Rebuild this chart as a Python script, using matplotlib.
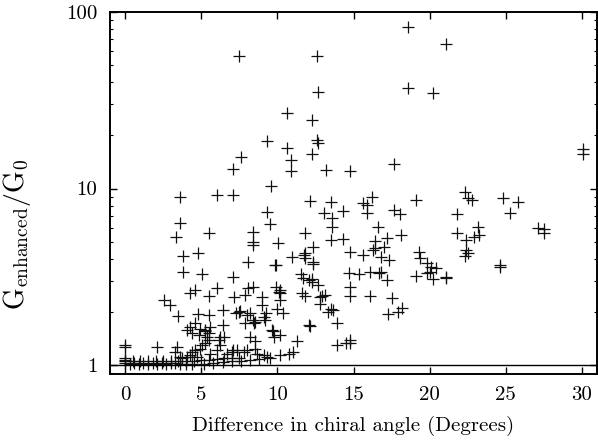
import matplotlib
matplotlib.use('Agg')
import matplotlib.pyplot as plt
from matplotlib.ticker import FixedLocator, FixedFormatter, LogLocator, NullFormatter

# ── data: difference in chiral angle (deg) vs G_enhanced/G_0 ──
angle_high = [7.5, 12.6, 12.7, 10.6, 12.3, 12.6, 12.7, 9.3, 10.6, 12.3, 7.6, 10.9, 7.1, 10.9,
              13.2, 14.75, 9.55, 3.6, 6.0, 7.1, 18.6, 21.1, 18.6, 20.2, 30.1, 30.1, 17.65]
ratio_high = [56, 56, 35.2, 26.9, 24.4, 18.8, 18.2, 18.7, 16.9, 15.7, 15.0, 14.5, 12.9, 12.5,
              12.8, 12.6, 10.4, 8.9, 9.2, 9.2, 82.6, 65.9, 37.2, 34.9, 16.7, 15.7, 13.7]

angle_right = [15.6, 15.9, 16.2, 15.9, 14.3, 17.65, 18.05, 19.1, 22.3, 22.5, 22.8, 24.85, 25.8,
               25.3, 21.8, 16.6, 13.5, 14.3, 16.4, 17.2, 18.1, 17.0, 14.75, 15.6, 16.3, 16.8,
               17.3, 19.3, 19.37, 19.85, 20.07, 20.4, 20.0, 21.8, 22.4, 22.9, 23.2, 23.25, 22.4,
               22.5, 22.3, 24.6, 24.6, 27.5, 27.1, 27.5, 14.7, 15.35, 16.1, 16.7, 16.8, 17.2,
               19.1, 19.85, 20.2, 21.1, 21.1, 14.75, 14.75, 16.1, 17.5, 13.65, 13.9, 17.25,
               17.9, 18.2, 13.9, 14.5, 14.8, 14.8, 16.4]
ratio_right = [8.3, 8.06, 9.0, 7.3, 7.46, 7.6, 7.2, 8.6, 9.5, 8.8, 8.6, 8.8, 8.4,
               7.3, 7.2, 6.08, 5.1, 5.15, 5.04, 5.22, 5.45, 4.68, 4.39, 4.2, 4.48, 4.11,
               3.94, 4.39, 4.02, 3.8, 3.58, 3.53, 3.38, 5.57, 5.1, 5.33, 6.08, 5.45, 4.48,
               4.33, 4.15, 3.69, 3.58, 5.87, 5.95, 5.57, 3.31, 3.27, 3.38, 3.31, 3.38, 3.03,
               3.19, 3.33, 3.06, 3.16, 3.1, 2.78, 2.47, 2.47, 2.39, 2.05, 1.74, 1.94,
               2.0, 2.1, 1.30, 1.34, 1.39, 1.33, 4.62]

angle_mid = [3.57, 3.33, 5.48, 3.8, 4.76, 3.8, 5.05, 7.06, 6.0, 4.6, 4.28, 12.17, 13.5, 13.05,
             13.6, 13.6, 9.32, 9.54, 8.37, 8.37, 8.37, 11.84, 12.35, 10.05, 10.97, 11.73, 11.84,
             12.35, 8.07, 9.82, 9.9, 11.56, 11.7, 12.28, 12.66, 13.1, 12.8, 12.8, 13.5, 8.07,
             8.4, 9.91, 10.2, 10.1, 5.48, 2.52, 2.96, 3.47, 4.76, 5.48, 6.43, 6.43, 7.3, 7.46,
             8.0, 8.22, 8.44, 9.14, 9.28, 9.98, 10.4, 4.28, 4.6, 4.93, 5.59, 5.26, 5.37, 5.48,
             6.25, 8.22, 9.69, 9.8, 10.2, 11.3, 12.1, 2.12, 11.8, 12.35, 12.06, 12.28,
             7.13, 7.9, 9.0, 10.2, 10.2, 11.6, 11.8, 12.9, 9.0, 7.57, 8.4, 8.55, 9.2, 7.9,
             8.55, 9.65, 12.17, 13.3]
ratio_mid = [6.4, 5.33, 5.57, 4.15, 4.33, 3.38, 3.26, 3.16, 2.74, 2.66, 2.55, 8.53, 8.42, 7.23,
             6.78, 6.08, 7.33, 6.3, 5.69, 5.0, 4.79, 5.62, 4.64, 4.89, 4.07, 4.2, 4.02,
             3.85, 3.85, 3.69, 3.69, 3.26, 3.1, 3.06, 2.84, 2.49, 2.42, 2.22, 2.07, 2.72,
             2.78, 2.78, 2.66, 2.6, 2.46, 2.33, 2.19, 1.9, 1.94, 1.92, 2.05, 1.69, 1.96, 2.0,
             1.92, 1.96, 1.72, 1.88, 1.98, 2.09, 1.96, 1.65, 1.72, 1.61, 1.65, 1.55, 1.45, 1.39,
             1.45, 1.45, 1.55, 1.45, 1.48, 1.37, 1.69, 1.27, 4.3, 3.76, 3.03, 2.94,
             2.44, 2.49, 2.42, 2.55, 2.33, 2.55, 2.46, 2.46, 2.19, 2.03, 1.80, 1.76, 1.80, 1.72,
             1.36, 1.58, 1.66, 2.0]

angle_low = [7.1, 7.8, 8.0, 8.55, 8.66, 9.1, 9.3, 9.5, 10.2, 10.75, 11.0,
             4.06, 4.39, 4.82, 5.26, 5.48, 5.26, 5.05, 4.93, 4.6, 4.39, 4.28, 4.06, 3.62, 3.29,
             3.4, 3.73, 4.71, 5.59, 6.03, 6.25, 6.14, 6.47, 6.69, 7.02, 7.35,
             0, 0, 0, 0, 0, 0,
             0.3, 0.6, 0.9, 1.2, 1.5, 1.8, 2.1, 2.4, 2.7, 3.0, 3.3,
             0.5, 1.0, 1.5, 2.0, 2.5, 3.0, 3.5, 4.0, 4.5, 5.0, 5.5, 6.0, 6.5, 7.0, 7.5,
             3.6, 4.0, 4.4, 5.2, 5.8, 6.4, 7.0, 7.6, 8.2, 8.8]
ratio_low = [1.22, 1.19, 1.22, 1.24, 1.16, 1.14, 1.11, 1.09, 1.14, 1.16, 1.19,
             1.58, 1.52, 1.48, 1.59, 1.51, 1.33, 1.30, 1.23, 1.22, 1.19, 1.14, 1.11, 1.11, 1.19,
             1.27, 1.09, 1.11, 1.16, 1.22, 1.30, 1.39, 1.45, 1.16, 1.19, 1.22,
             1.30, 1.27, 1.10, 1.07, 1.05, 1.03,
             1.02, 1.03, 1.02, 1.03, 1.02, 1.03, 1.02, 1.03, 1.02, 1.03, 1.03,
             1.05, 1.05, 1.05, 1.05, 1.05, 1.05, 1.05, 1.06, 1.06, 1.07, 1.07, 1.08, 1.09, 1.1, 1.1,
             1.01, 1.02, 1.01, 1.02, 1.03, 1.04, 1.05, 1.06, 1.07, 1.08]

x_ticks = [0, 5, 10, 15, 20, 25, 30]
y_ticks = [1, 10, 100]

plt.rcParams['font.family'] = 'cmr10'
plt.rcParams['mathtext.fontset'] = 'cm'
plt.rcParams['axes.unicode_minus'] = False

fig = plt.figure(figsize=(5.98, 4.44), dpi=100)
ax = fig.add_axes([110 / 598, 70 / 444, 487 / 598, 362 / 444])

xs = angle_high + angle_right + angle_mid + angle_low
ys = ratio_high + ratio_right + ratio_mid + ratio_low
ax.plot(xs, ys, linestyle='none', marker='+', markersize=8.5, markeredgewidth=0.9, color='#111111')

ax.axhline(1, color='black', linewidth=1.0)

ax.set_yscale('log')
ax.set_xlim(-1, 31)
ax.set_ylim(0.89, 100)

ax.xaxis.set_major_locator(FixedLocator(x_ticks))
ax.xaxis.set_major_formatter(FixedFormatter([str(t) for t in x_ticks]))
ax.yaxis.set_major_locator(FixedLocator(y_ticks))
ax.yaxis.set_major_formatter(FixedFormatter([str(t) for t in y_ticks]))
ax.yaxis.set_minor_locator(LogLocator(base=10, subs=range(2, 10)))
ax.yaxis.set_minor_formatter(NullFormatter())

ax.tick_params(which='both', direction='in', top=True, right=True, labelsize=15)
ax.tick_params(which='major', length=5, width=1.0, pad=9)
ax.tick_params(which='minor', length=2.5, width=0.8)
for s in ax.spines.values():
    s.set_linewidth(1.4)

ax.set_xlabel('Difference in chiral angle (Degrees)', fontsize=15, labelpad=8)
ax.set_ylabel(r'$\mathrm{G_{enhanced}/G_0}$', fontsize=20)
ax.yaxis.set_label_coords(-0.158, 0.385)

fig.savefig('out.png', dpi=100)
